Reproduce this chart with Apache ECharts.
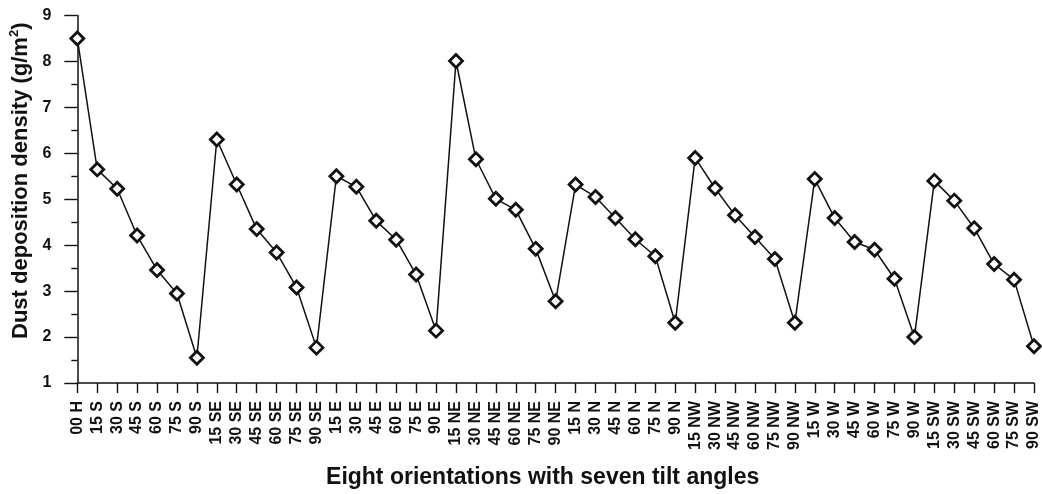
<!DOCTYPE html>
<html>
<head>
<meta charset="utf-8">
<script src="https://cdn.jsdelivr.net/npm/echarts@6/dist/echarts.min.js"></script>
<style>
  html, body { margin: 0; padding: 0; background: #fff; }
  #chart { width: 1042px; height: 494px; }
</style>
</head>
<body>
<div id="chart"></div>
<script>
// Horizontal reference point followed by eight orientations x six tilt angles
const orientations = ['S', 'SE', 'E', 'NE', 'N', 'NW', 'W', 'SW'];
const tilts = ['15', '30', '45', '60', '75', '90'];
const categories = ['00 H'].concat(
  orientations.flatMap(o => tilts.map(t => t + ' ' + o))
);

// Dust deposition density (g/m^2) per orientation, tilt 15..90
const horizontal = [8.5];
const southS  = [5.65, 5.23, 4.21, 3.46, 2.95, 1.55];
const southE  = [6.30, 5.32, 4.35, 3.84, 3.08, 1.77];
const east    = [5.50, 5.27, 4.53, 4.12, 3.36, 2.14];
const northE  = [8.01, 5.87, 5.01, 4.77, 3.92, 2.78];
const north   = [5.32, 5.05, 4.59, 4.13, 3.76, 2.31];
const northW  = [5.90, 5.24, 4.65, 4.18, 3.70, 2.31];
const west    = [5.44, 4.59, 4.07, 3.90, 3.27, 2.00];
const southW  = [5.40, 4.97, 4.37, 3.59, 3.25, 1.80];

const values = horizontal.concat(southS, southE, east, northE, north, northW, west, southW);

const yTicks = { min: 1, max: 9, step: 1 };

const FONT = "'Liberation Sans', Arial, Helvetica, sans-serif";

const chart = echarts.init(document.getElementById('chart'), null, { renderer: 'canvas' });

chart.setOption({
  animation: false,
  backgroundColor: '#ffffff',
  grid: { left: 77, right: 2, top: 15.5, bottom: 110.5, containLabel: false },
  xAxis: {
    type: 'category',
    data: categories,
    boundaryGap: false,
    name: 'Eight orientations with seven tilt angles',
    nameLocation: 'middle',
    nameGap: 83,
    nameTextStyle: { fontFamily: FONT, fontWeight: 'bold', fontSize: 23, color: '#111', padding: [0, 26, 0, 0] },
    axisLine: { lineStyle: { color: '#111', width: 1.5 } },
    axisTick: { show: true, interval: 0, length: 10, lineStyle: { color: '#111', width: 1.4 } },
    axisLabel: {
      interval: 0, rotate: 90, margin: 18,
      fontFamily: FONT, fontWeight: 'bold', fontSize: 16, color: '#111'
    },
    splitLine: { show: false }
  },
  yAxis: {
    type: 'value',
    min: yTicks.min,
    max: yTicks.max,
    interval: yTicks.step,
    name: '{t|Dust deposition density (g/m}{s|2}{t|)}',
    nameLocation: 'middle',
    nameGap: 44,
    nameRotate: 90,
    nameTextStyle: {
      padding: [0, 0, 0, 37],
      rich: {
        t: { fontFamily: FONT, fontWeight: 'bold', fontSize: 22, color: '#111', lineHeight: 25 },
        s: { fontFamily: FONT, fontWeight: 'bold', fontSize: 13, color: '#111', verticalAlign: 'top', lineHeight: 25 }
      }
    },
    axisLine: { show: true, lineStyle: { color: '#111', width: 1.5 } },
    axisTick: { show: true, length: 13, lineStyle: { color: '#111', width: 1.4 } },
    minorTick: { show: true, splitNumber: 2, length: 6, lineStyle: { color: '#111', width: 1.4 } },
    axisLabel: { margin: 26, fontFamily: FONT, fontWeight: 'bold', fontSize: 16, color: '#111' },
    splitLine: { show: false }
  },
  series: [{
    type: 'line',
    data: values,
    symbol: 'diamond',
    symbolSize: 13,
    showAllSymbol: true,
    lineStyle: { color: '#111', width: 1.5 },
    itemStyle: { color: '#ffffff', borderColor: '#111', borderWidth: 2.8 },
    z: 3
  }]
});
</script>
</body>
</html>
